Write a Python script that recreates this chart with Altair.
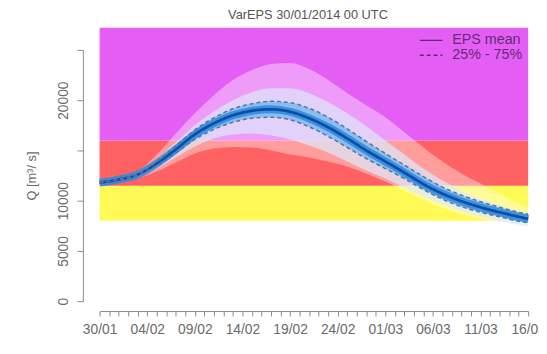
import altair as alt
import pandas as pd

# ---- data (day 0 = 30/01/2014) ----
days = [0, 2, 4, 6, 8, 10, 12, 14, 16, 18, 20, 22, 24, 26, 28, 30, 32, 34, 36, 38, 40, 42, 44, 45]
eps_mean = [11800, 12100, 12600, 13700, 15100, 16600, 17700, 18500, 18950, 19100, 18850, 18200,
            17300, 16200, 15000, 13900, 12800, 11650, 10700, 9950, 9350, 8850, 8400, 8200]
q_max = [11800, 12150, 12900, 14600, 16700, 18700, 20500, 22000, 23000, 23600, 23700, 23100,
         22000, 20700, 19500, 18300, 16800, 15300, 13900, 12700, 11700, 10700, 9700, 9300]
q90 = [11800, 12130, 12750, 14100, 15800, 17500, 18900, 20000, 20800, 21200, 21200, 20700,
       19800, 18700, 17400, 16000, 14600, 13200, 12000, 11000, 10200, 9600, 9000, 8750]
q75 = [11800, 12110, 12680, 13900, 15450, 17050, 18250, 19150, 19650, 19900, 19750, 19200,
       18300, 17150, 15900, 14700, 13550, 12400, 11350, 10550, 9900, 9350, 8850, 8650]
q25 = [11800, 12090, 12520, 13500, 14750, 16100, 17100, 17800, 18200, 18300, 18050, 17350,
       16400, 15300, 14200, 13200, 12200, 11100, 10150, 9400, 8850, 8400, 7950, 7800]
q10 = [11800, 12050, 12400, 13200, 14300, 15400, 16200, 16600, 16700, 16500, 16100, 15500,
       14800, 13900, 13000, 12200, 11300, 10400, 9600, 8900, 8400, 7950, 7600, 7450]
q_min = [11800, 12000, 12250, 12900, 13800, 14700, 15200, 15350, 15300, 15000, 14600, 14300,
         13900, 13400, 12700, 11900, 11000, 10100, 9300, 8700, 8200, 7750, 7400, 7250]

# warning thresholds (background bands)
band_low = [8000, 11500, 16000]
band_high = [11500, 16000, 27200]
band_color = ["#fffa55", "#ff6262", "#e45ef6"]

tick_days = list(range(46))
date_labels = ["30/01", "04/02", "09/02", "14/02", "19/02", "24/02", "01/03", "06/03", "11/03", "16/03"]
y_ticks = [0, 5000, 10000, 15000, 20000, 25000]
y_shown = [0, 5000, 10000, 20000]

# ---- tables ----
ens = pd.DataFrame({"day": days, "mean": eps_mean, "max": q_max, "min": q_min,
                    "q90": q90, "q10": q10, "q75": q75, "q25": q25})
bands = pd.DataFrame({"x0": [days[0]] * 3, "x1": [days[-1]] * 3,
                      "lo": band_low, "hi": band_high, "col": band_color})
mean_df = pd.DataFrame({"day": days, "Q": eps_mean, "series": "EPS mean", "lid": "mean"})
quart_df = pd.concat([
    pd.DataFrame({"day": days, "Q": q75, "series": "25% - 75%", "lid": "q75"}),
    pd.DataFrame({"day": days, "Q": q25, "series": "25% - 75%", "lid": "q25"}),
])

label_js = "[" + ",".join("'" + s + "'" for s in date_labels) + "]"
shown_js = "[" + ",".join(str(v) for v in y_shown) + "]"
x_scale = alt.Scale(domain=[0, 45], nice=False, zero=False)
y_scale = alt.Scale(domain=[0, 25000], nice=False)

x_axis = alt.Axis(values=tick_days, title=None, grid=False, offset=10, tickSize=5,
                  labelExpr="datum.value % 5 == 0 ? " + label_js + "[datum.value / 5] : ''",
                  labelFontSize=14, labelPadding=7, labelColor="#6a6a6a", labelFlush=False,
                  domainColor="#8a8a8a", tickColor="#8a8a8a", labelOverlap=False)
y_axis = alt.Axis(values=y_ticks, title="Q [m³/ s]", grid=False, offset=17, tickSize=6,
                  format="d",
                  labelExpr="indexof(" + shown_js + ", datum.value) >= 0 ? datum.label : ''",
                  labelAngle=270, labelAlign="center", labelBaseline="bottom", labelFlush=False,
                  labelFontSize=14, labelPadding=7, labelColor="#6a6a6a", labelOverlap=False,
                  titleFontSize=13, titleFontWeight="normal", titleColor="#6a6a6a",
                  titlePadding=18, domainColor="#8a8a8a", tickColor="#8a8a8a")


def X(field):
    return alt.X(field, scale=x_scale, axis=x_axis)


def Y(field):
    return alt.Y(field, scale=y_scale, axis=y_axis)


bg = alt.Chart(bands).mark_rect().encode(
    x=X("x0:Q"), x2="x1:Q", y=Y("lo:Q"), y2="hi:Q",
    color=alt.Color("col:N", scale=None),
)

base = alt.Chart(ens)
outer = base.mark_area(color="white", opacity=0.38, interpolate="monotone").encode(
    x=X("day:Q"), y=Y("min:Q"), y2="max:Q")
mid = base.mark_area(color="#dde9fb", opacity=0.7, interpolate="monotone").encode(
    x=X("day:Q"), y=Y("q10:Q"), y2="q90:Q")
inner = base.mark_area(color="#86bcef", opacity=0.95, interpolate="monotone").encode(
    x=X("day:Q"), y=Y("q25:Q"), y2="q75:Q")
halo = base.mark_line(color="#2f88de", strokeWidth=8, opacity=0.85, interpolate="monotone").encode(
    x=X("day:Q"), y=Y("mean:Q"))

series_dom = ["EPS mean", "25% - 75%"]
dash = alt.StrokeDash(
    "series:N",
    scale=alt.Scale(domain=series_dom, range=[[1, 0], [4, 3]]),
    legend=alt.Legend(title=None, orient="none", legendX=324, legendY=-16,
                      symbolType="stroke", symbolSize=529, clipHeight=12.5,
                      symbolStrokeWidth=1.5, symbolStrokeColor="#5e2a6e",
                      labelFontSize=14.5, labelColor="#642c72",
                      labelOffset=9, rowPadding=0, padding=0),
)
mean_line = alt.Chart(mean_df).mark_line(interpolate="monotone", color="#0b4ea6", strokeWidth=2.8).encode(
    x=X("day:Q"), y=Y("Q:Q"), strokeDash=dash)
quart_lines = alt.Chart(quart_df).mark_line(interpolate="monotone", color="#55769a", strokeWidth=1.5).encode(
    x=X("day:Q"), y=Y("Q:Q"), detail="lid:N", strokeDash=dash)

chart = alt.layer(bg, outer, mid, inner, halo, mean_line, quart_lines).properties(
    width=435, height=255,
    title=alt.Title("VarEPS 30/01/2014 00 UTC", fontSize=13, fontWeight="normal",
                    color="#555555", offset=6, dx=-6),
    autosize=alt.AutoSizeParams(type="none"),
    padding={"left": 93, "top": 40, "right": 11, "bottom": 51},
).configure(font="Liberation Sans").configure_view(stroke=None).configure_legend(
    symbolStrokeColor="#5e2a6e")

chart.save("out.html", embed_options={"renderer": "svg", "actions": False})
